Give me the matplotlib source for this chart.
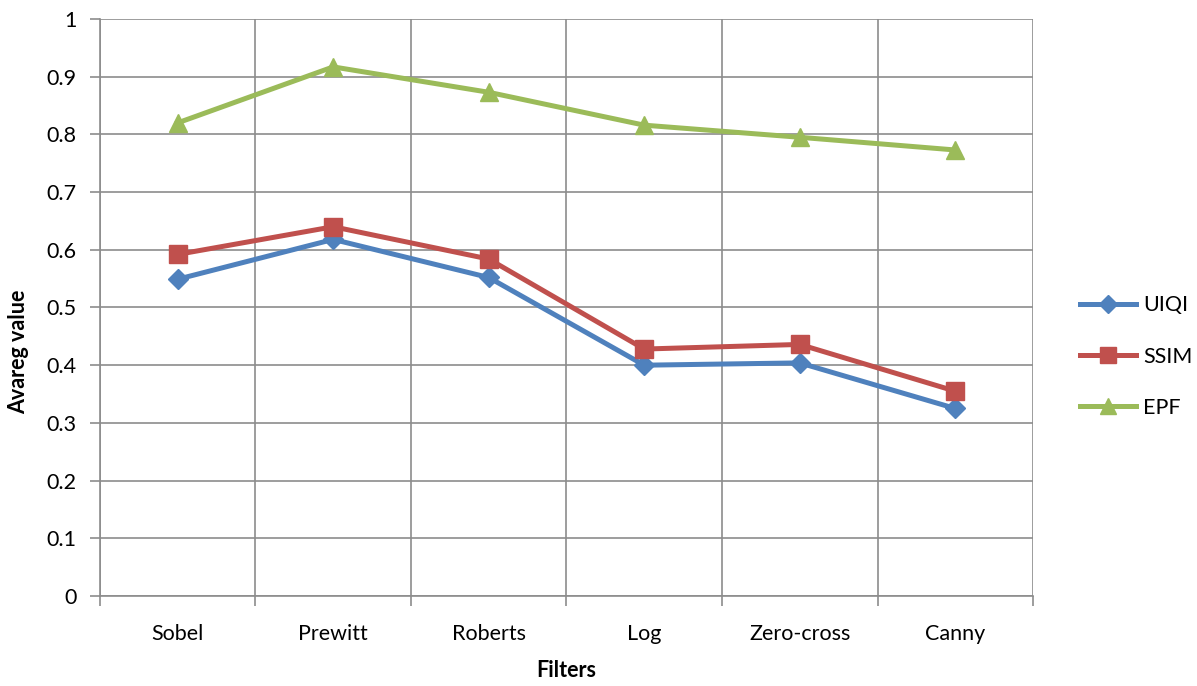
import matplotlib
matplotlib.use("Agg")
import matplotlib.pyplot as plt
import numpy as np

# ── 資料 ──
filters = ["Sobel", "Prewitt", "Roberts", "Log", "Zero-cross", "Canny"]
uiqi = [0.549, 0.618, 0.552, 0.400, 0.404, 0.325]
ssim = [0.592, 0.640, 0.584, 0.428, 0.436, 0.355]
epf = [0.820, 0.917, 0.873, 0.816, 0.795, 0.773]
y_ticks = [0, 0.1, 0.2, 0.3, 0.4, 0.5, 0.6, 0.7, 0.8, 0.9, 1]
y_tick_labels = ["0", "0.1", "0.2", "0.3", "0.4", "0.5", "0.6", "0.7", "0.8", "0.9", "1"]

plt.rcParams["font.family"] = ["Lato", "DejaVu Sans"]

GRID = "#8c8c8c"
FS = 15.5
series = [
    ("UIQI", uiqi, "#4f81bd", "D", 10),
    ("SSIM", ssim, "#c0504d", "s", 13),
    ("EPF", epf, "#9bbb59", "^", 13),
]

fig = plt.figure(figsize=(11.97, 6.86), dpi=100)
ax = fig.add_axes([0.0835, 0.1312, 0.7795, 0.8411])

x = np.arange(len(filters))
for name, vals, color, marker, ms in series:
    ax.plot(x, vals, color=color, linewidth=3.6, marker=marker,
            markersize=ms, label=name, zorder=3)

ax.set_xlim(-0.5, len(filters) - 0.5)
ax.set_ylim(0, 1)

# 類別置中，格線與刻度放在類別邊界
ax.set_xticks(x)
ax.set_xticklabels(filters, fontsize=FS)
ax.set_xticks(np.arange(-0.5, len(filters)), minor=True)
ax.tick_params(axis="x", which="major", length=0, pad=20)
ax.tick_params(axis="x", which="minor", length=7, color=GRID, width=1.2)
ax.grid(True, axis="x", which="minor", color=GRID, linewidth=1.2)

ax.set_yticks(y_ticks)
ax.set_yticklabels(y_tick_labels, fontsize=FS)
ax.tick_params(axis="y", length=7, color=GRID, width=1.2, pad=10)
ax.grid(True, axis="y", which="major", color=GRID, linewidth=1.2)
ax.set_axisbelow(True)

for side in ["top", "right"]:
    ax.spines[side].set_visible(False)
for side in ["left", "bottom"]:
    ax.spines[side].set_color(GRID)
    ax.spines[side].set_linewidth(1.2)

ax.set_xlabel("Filters", fontsize=FS, fontweight="bold", labelpad=12)
ax.set_ylabel("Avareg value", fontsize=FS, fontweight="bold")
ax.yaxis.set_label_coords(-0.076, 0.423)

ax.legend(loc="center left", bbox_to_anchor=(1.03, 0.415), frameon=False,
          fontsize=FS, handlelength=2.6, labelspacing=1.45, markerscale=0.9,
          handletextpad=0.3)

plt.savefig("out.png", dpi=100)
